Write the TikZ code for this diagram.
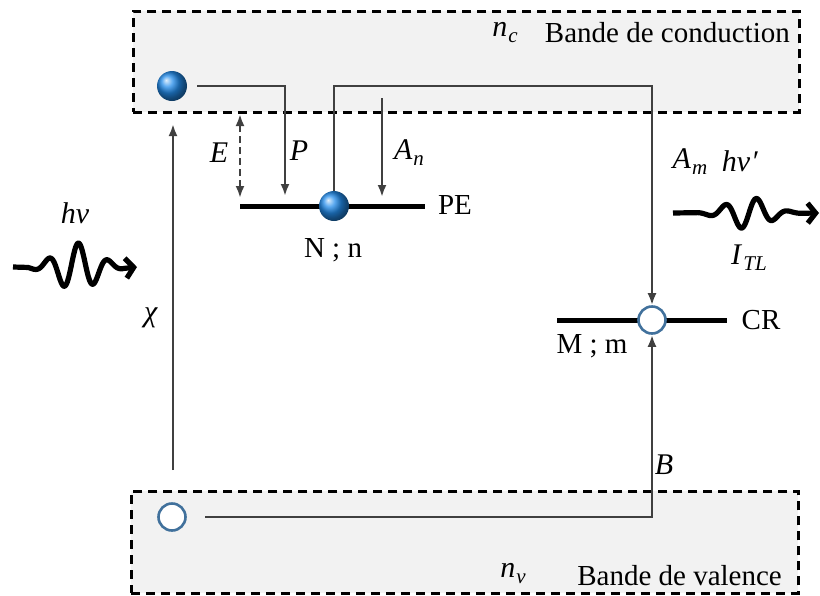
\documentclass[tikz,border=0pt]{standalone}
\usepackage{fontspec}
\setmainfont{Liberation Serif}
\usetikzlibrary{arrows.meta,shapes.geometric}
\definecolor{bandgray}{HTML}{F2F2F2}
\definecolor{conngray}{HTML}{404040}
\definecolor{holeblue}{HTML}{41719C}
\definecolor{ballblue}{RGB}{35,140,235}
\newcommand{\mysub}[2]{\textit{#1}\kern1pt\raisebox{-6pt}{\fontsize{21}{23}\selectfont\textit{#2}}}
\tikzset{
  every node/.style={font=\fontsize{29}{32}\selectfont, inner sep=0pt},
  lbl/.style={font=\fontsize{30}{33}\selectfont},
  band/.style={draw=black, dash pattern=on 9pt off 6pt, line width=2.6pt, fill=bandgray, rectangle, anchor=north west},
  conn/.style={draw=conngray, line width=2.6pt},
  arr/.style={conn, -{Latex[length=12pt,width=9pt]}},
  dbl/.style={conn, dash pattern=on 7pt off 4pt, {Latex[length=12pt,width=9pt]}-{Latex[length=12pt,width=9pt]}},
  level/.style={draw=black, line width=5pt},
  electron/.style={circle, minimum size=30pt, shading=ball, ball color=ballblue},
  hole/.style={circle, draw=holeblue, line width=2.6pt, fill=white, minimum size=27pt},
  wave/.style={draw=black, line width=5.2pt, line join=round, -{Straight Barb[length=8pt,width=20pt]}},
}
\begin{document}
\begin{tikzpicture}[x=1pt,y=-1pt]
\useasboundingbox (0,0) rectangle (820,595);
% bands
\node[band, minimum width=666pt, minimum height=101pt] (cb) at (132,10) {};
\node[band, minimum width=667pt, minimum height=102pt] (vb) at (130,490) {};
\node[anchor=east] (cbtxt) at (790,33) {Bande de conduction};
\node[lbl] (nc) at (505,33) {\mysub{n}{c}};
\node[anchor=east] (vbtxt) at (782,576) {Bande de valence};
\node[lbl] (nv) at (513,574) {\mysub{n}{v}};
% levels
\coordinate (pe1) at (240,206);
\coordinate (pe2) at (425,206);
\draw[level] (pe1) -- (pe2);
\node (pe) at (455,205) {PE};
\coordinate (cr1) at (557,320);
\coordinate (cr2) at (727,320);
\draw[level] (cr1) -- (cr2);
\node (cr) at (761,320) {CR};
% carriers
\node[electron] (e1) at (172,86) {};
\node[electron] (e2) at (334,206) {};
\node[hole] (h1) at (172,517) {};
\node[hole] (h2) at (652,320) {};
\node (nn) at (333,250) {N ; n};
\node (mm) at (592,346) {M ; m};
% connectors
\coordinate (pS) at (197,86);
\coordinate (pC) at (285,86);
\coordinate (pE) at (285,196);
\draw[arr] (pS) -- (pC) -- (pE);
\node[lbl] (P) at (299,151) {\textit{P}};
\coordinate (eT) at (240,114);
\coordinate (eB) at (240,198);
\draw[dbl] (eB) -- (eT);
\node[lbl] (E) at (219,153) {\textit{E}};
\coordinate (anT) at (382,98);
\coordinate (anB) at (382,197);
\draw[arr] (anT) -- (anB);
\node[lbl] (An) at (409,153) {\mysub{A}{n}};
\coordinate (lp1) at (334,86);
\coordinate (lp2) at (652,86);
\draw[arr] (e2.north) -- (lp1) -- (lp2) -- (h2.north);
\coordinate (chiB) at (173,470);
\coordinate (chiT) at (173,124);
\draw[arr] (chiB) -- (chiT);
\node[lbl] (chi) at (151,318) {\textit{χ}};
\coordinate (bS) at (205,517);
\coordinate (bC) at (652,517);
\draw[arr] (bS) -- (bC) -- (h2.south);
\node[lbl] (B) at (664,465) {\textit{B}};
% photons
\coordinate (w1s) at (13,267);
\coordinate (w1e) at (137,267);
\draw[wave] (w1s) -- plot[domain=28:124, samples=140, smooth] (\x, {267 - 24*exp(-((\x-77)/28)^2)*sin(12*(\x-71))}) -- (w1e);
\node[lbl] (hv) at (75,213) {\textit{hv}};
\coordinate (w2s) at (673,213);
\coordinate (w2e) at (819,213);
\draw[wave] (w2s) -- plot[domain=698:800, samples=140, smooth] (\x, {213 - 16*exp(-((\x-748)/28)^2)*sin(11.25*(\x-749))}) -- (w2e);
\node[lbl] (Am) at (690,162) {\mysub{A}{m}};
\node[lbl] (hvp) at (740,161) {\textit{hv\kern1pt′}};
\node[lbl] (itl) at (749,258) {\mysub{I}{TL}};
\end{tikzpicture}
\end{document}
